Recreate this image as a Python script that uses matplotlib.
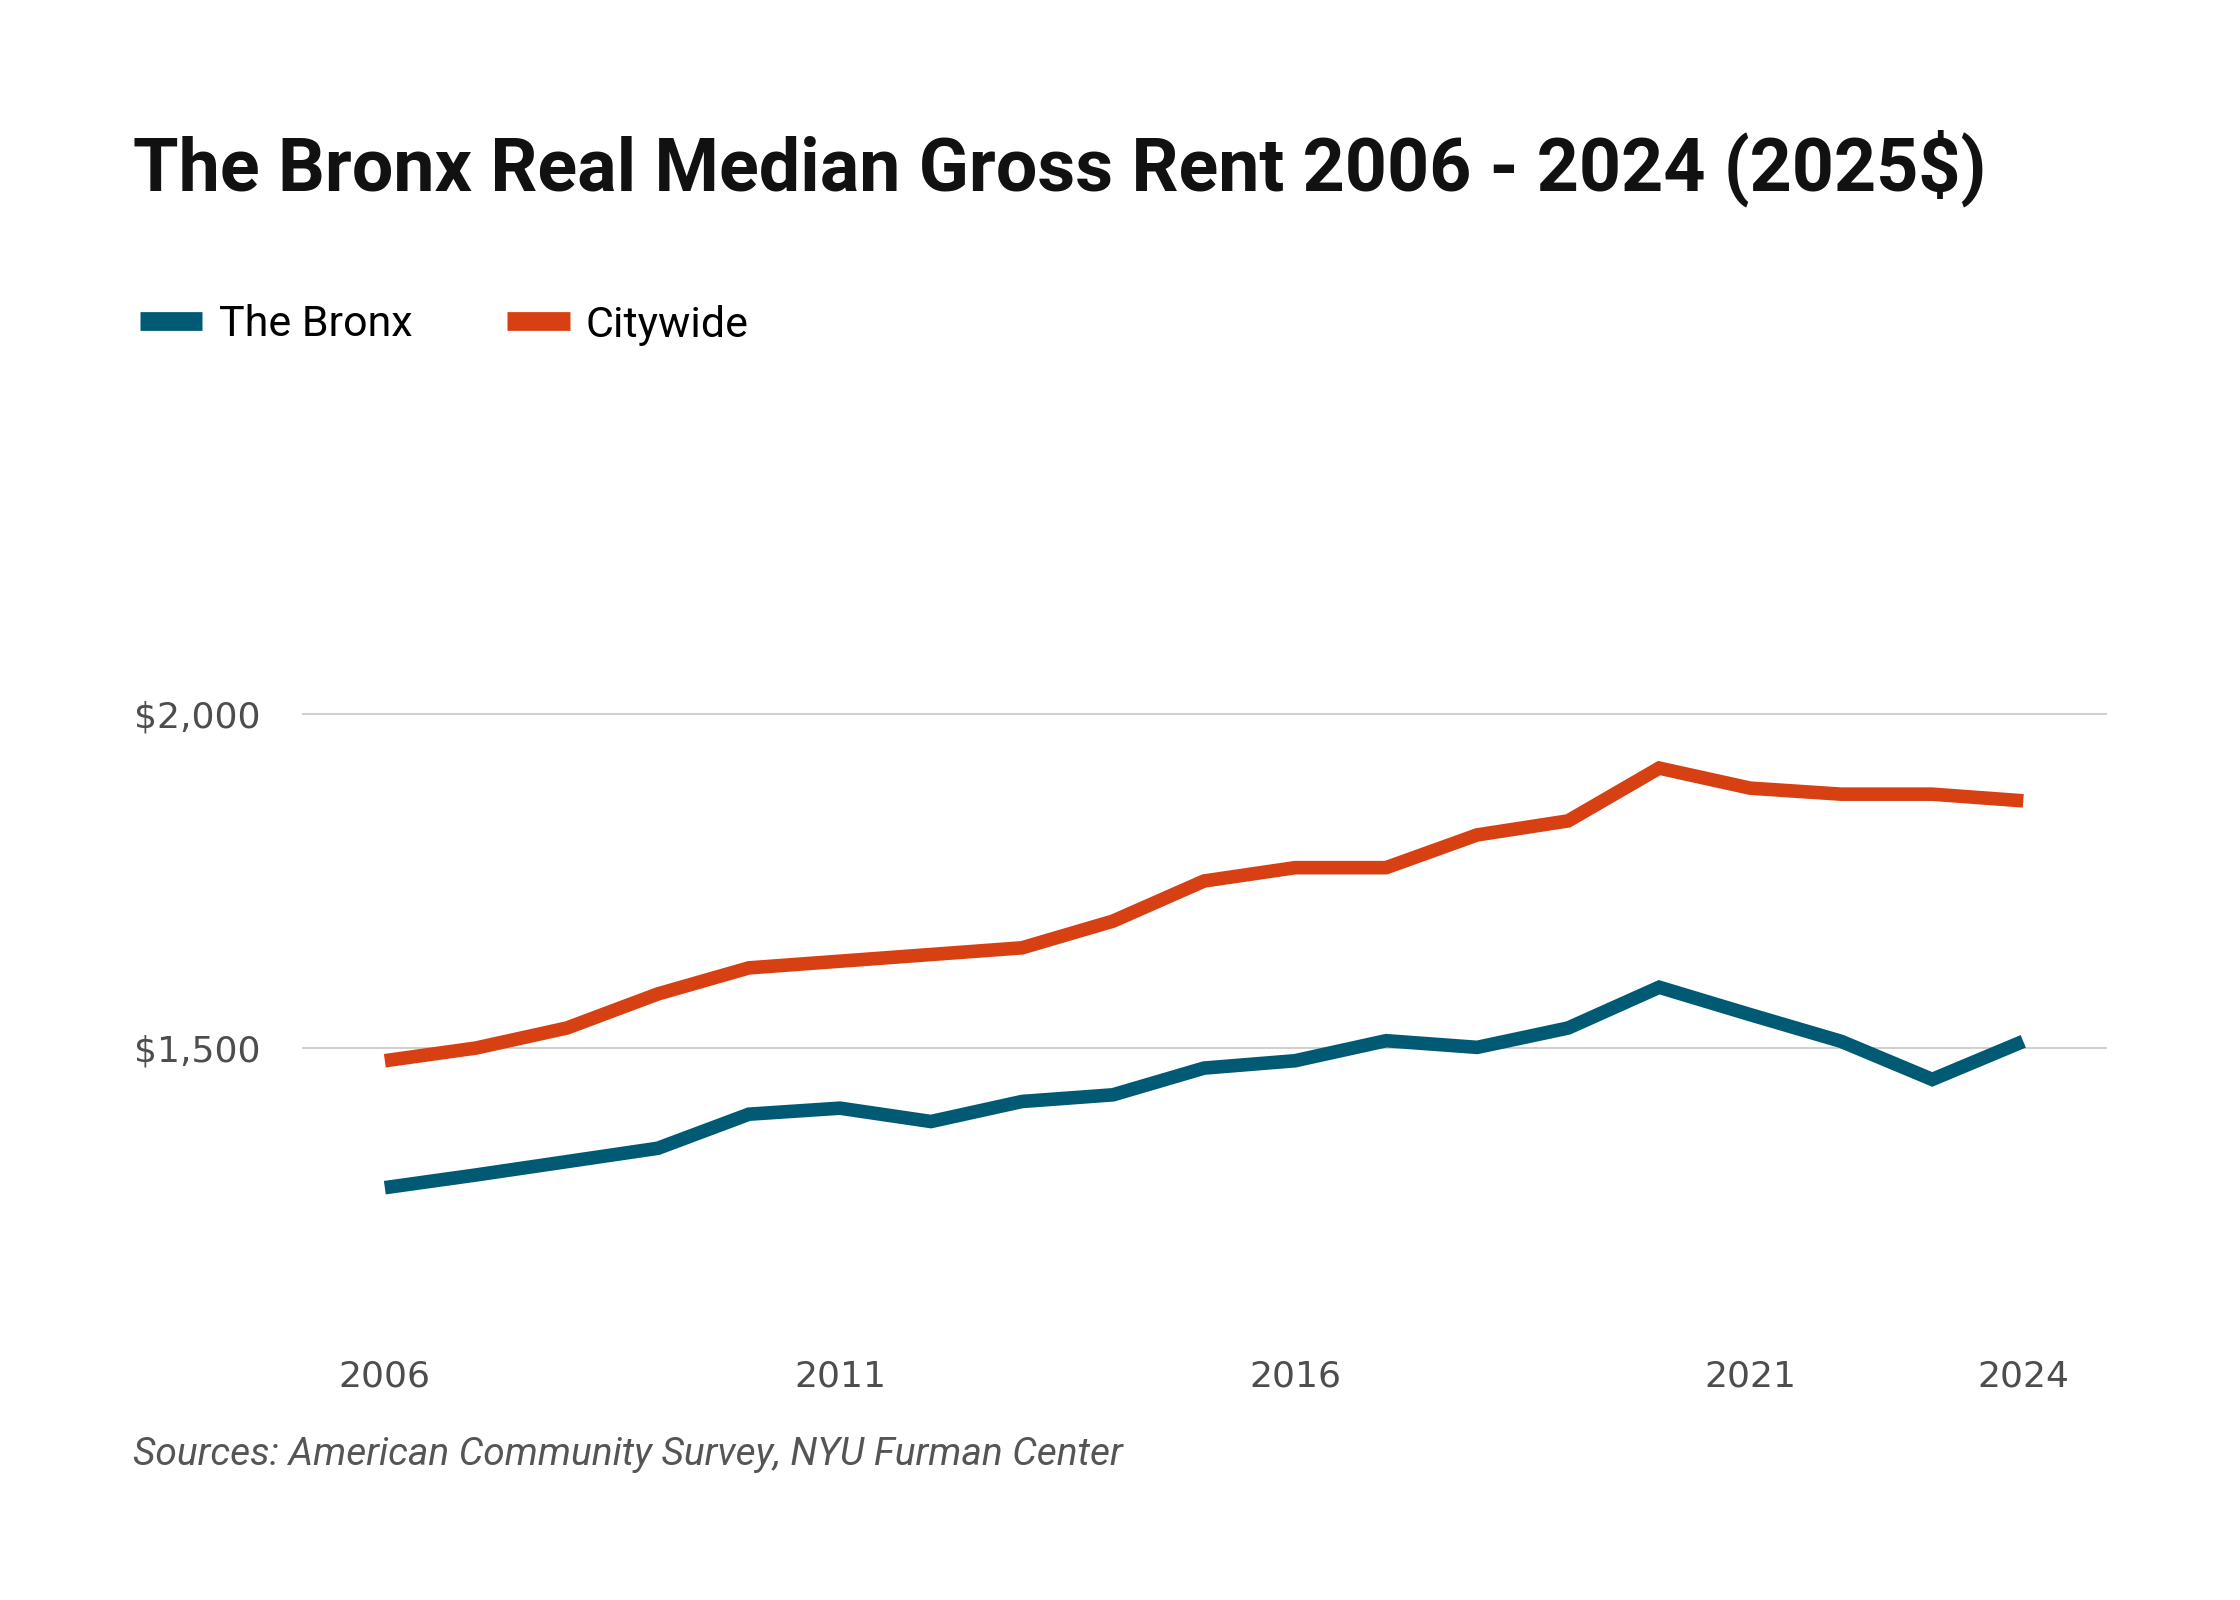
import matplotlib
matplotlib.use('Agg')
import matplotlib.pyplot as plt

# data
years = list(range(2006, 2025))
bronx = [1291, 1310, 1330, 1350, 1401, 1410, 1390, 1420, 1430, 1470, 1481,
         1511, 1501, 1530, 1591, 1550, 1510, 1453, 1510]
citywide = [1481, 1500, 1530, 1581, 1620, 1630, 1640, 1650, 1690, 1750, 1770,
            1770, 1819, 1840, 1919, 1889, 1880, 1880, 1870]
series_names = ['The Bronx', 'Citywide']
x_ticks = [2006, 2011, 2016, 2021, 2024]
y_ticks = [1500, 2000]
y_tick_labels = ['$1,500', '$2,000']

title = 'The Bronx Real Median Gross Rent 2006 - 2024 (2025$)'
source = 'Sources: American Community Survey, NYU Furman Center'

BRONX_COLOR = '#005a73'
CITY_COLOR = '#d64012'
TICK_COLOR = '#4d4d4d'

W, H = 2240, 1600
fig = plt.figure(figsize=(W / 100, H / 100), dpi=100)
ax = fig.add_axes([302 / W, 1 - 1340 / H, 1805 / W, 780 / H])

ax.plot(years, bronx, color=BRONX_COLOR, lw=9.8, label=series_names[0],
        solid_capstyle='butt', solid_joinstyle='miter')
ax.plot(years, citywide, color=CITY_COLOR, lw=9.8, label=series_names[1],
        solid_capstyle='butt', solid_joinstyle='miter')

ax.set_xlim(2005.09, 2024.92)
ax.set_ylim(1063, 2230.5)
ax.set_xticks(x_ticks)
ax.set_xticklabels([str(y) for y in x_ticks])
ax.set_yticks(y_ticks)
ax.set_yticklabels(y_tick_labels)
ax.grid(axis='y', color='#cccccc', lw=1.3)
ax.set_axisbelow(True)
for s in ax.spines.values():
    s.set_visible(False)
ax.tick_params(axis='both', length=0, labelsize=26, labelcolor=TICK_COLOR)
ax.tick_params(axis='y', pad=30)
ax.tick_params(axis='x', pad=14)

leg = ax.legend(loc='center left', bbox_to_anchor=(140 / W, 1 - 325 / H),
                bbox_transform=fig.transFigure, ncol=2, frameon=False,
                borderpad=0, borderaxespad=0, handlelength=1.45,
                handletextpad=0.38, columnspacing=2.2,
                prop={'family': 'Roboto', 'size': 31})
for h in leg.get_lines():
    h.set_linewidth(13.5)

fig.text(133 / W, 1 - 190 / H, title, fontsize=53, fontweight='bold',
         family='Roboto', color='#111111', va='baseline', ha='left')
fig.text(133 / W, 1 - 1465 / H, source, fontsize=28, style='italic',
         family='Roboto', color='#555555', va='baseline', ha='left')

fig.savefig('out.png', dpi=100, facecolor='white')
